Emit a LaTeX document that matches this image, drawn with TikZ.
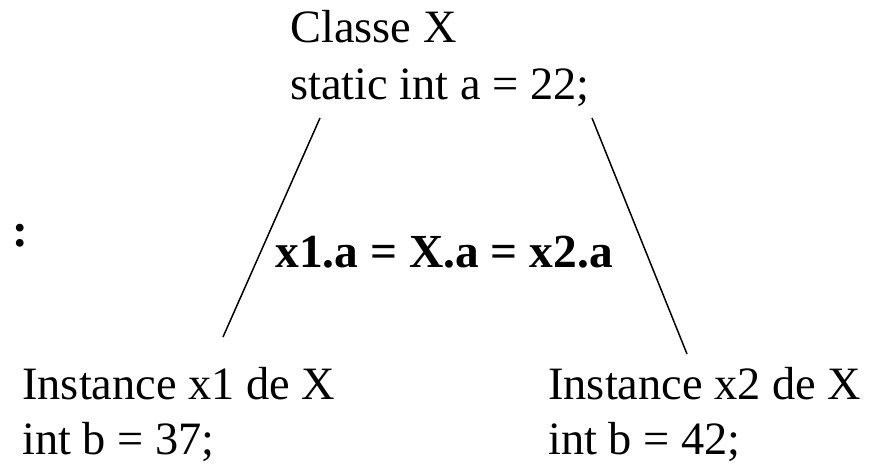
\documentclass[tikz,border=0pt]{standalone}
\usepackage{fontspec}
\setmainfont{Liberation Serif}
\usepackage{tikz}
\usetikzlibrary{positioning}
\definecolor{txtink}{RGB}{0,0,0}
\tikzset{
 lbl/.style={anchor=base west, inner sep=0pt, text=txtink,
        font=\fontsize{26.4}{31.7}\selectfont},
 lbl bold/.style={lbl, font=\fontsize{27}{32.4}\selectfont\bfseries},
 link/.style={draw=txtink, line width=0.85pt},
}
\begin{document}
\begin{tikzpicture}[x=0.02cm, y=-0.02cm]
\useasboundingbox (0,0) rectangle (885,475);
% the class and its static field
\node[lbl] (cls) at (290,43) {Classe X};
\node[lbl] (clsa) at (290,100) {static int a = 22;};
% the two instances
\node[lbl] (inst1) at (22,400) {Instance x1 de X};
\node[lbl] (inst1b) at (22,455) {int b = 37;};
\node[lbl] (inst2) at (548,400) {Instance x2 de X};
\node[lbl] (inst2b) at (548,455) {int b = 42;};
% shared value and stray colon on the left
\node[lbl bold] (same) at (275,268) {x1.a = X.a = x2.a};
\node[lbl bold] (colon) at (12,247) {:};
% links from the class down to each instance
\coordinate (top1) at (320,118);
\coordinate (bot1) at (223,337);
\coordinate (top2) at (592,118);
\coordinate (bot2) at (687,354);
\draw[link] (top1) -- (bot1);
\draw[link] (top2) -- (bot2);
\end{tikzpicture}
\end{document}
